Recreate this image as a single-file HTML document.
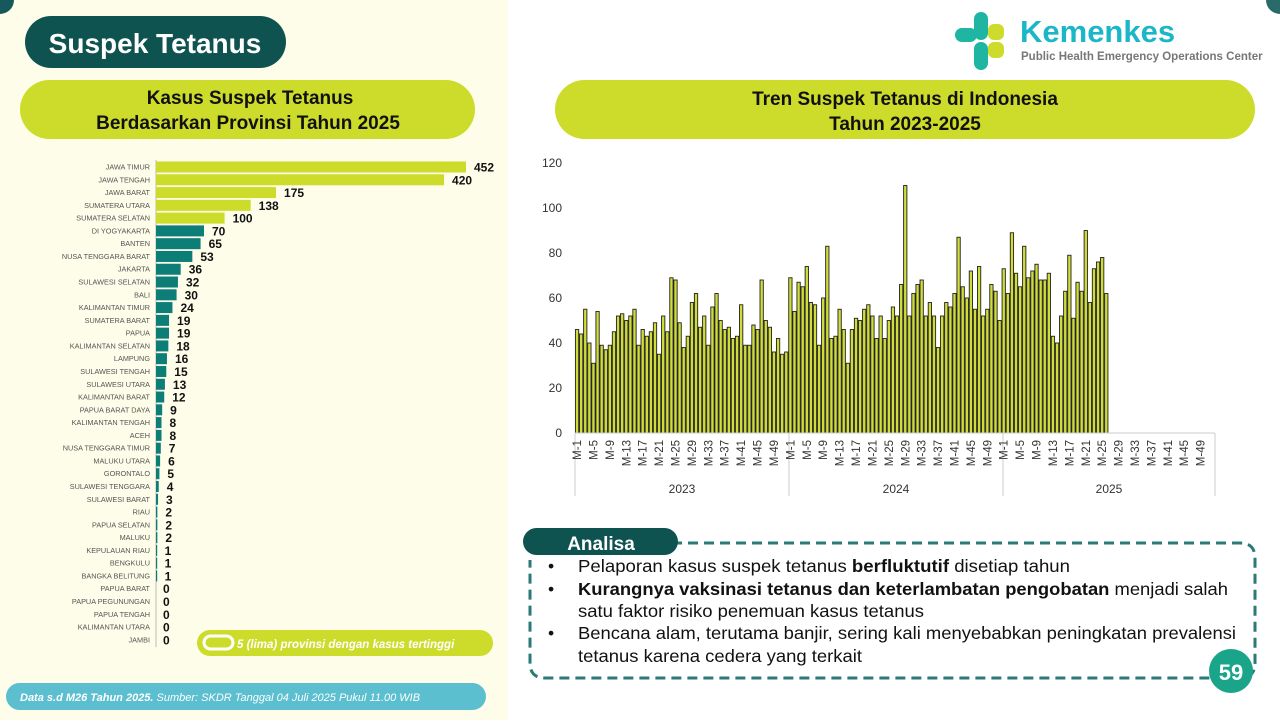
<!DOCTYPE html>
<html><head><meta charset="utf-8"><style>
body{margin:0;width:1280px;height:720px;overflow:hidden;background:#fff;font-family:"Liberation Sans",sans-serif}
svg text{font-family:"Liberation Sans",sans-serif}
</style></head><body>
<svg width="1280" height="720" viewBox="0 0 1280 720" xmlns="http://www.w3.org/2000/svg">
<rect x="0" y="0" width="508" height="720" fill="#fdfde9"/>
<circle cx="0" cy="0" r="14" fill="#17595a"/>
<circle cx="1280" cy="0" r="14" fill="#2a6a68"/>
<!-- title -->
<rect x="25" y="16" width="261" height="52" rx="26" fill="#0f5350"/>
<text x="155" y="53" text-anchor="middle" font-size="28" font-weight="bold" fill="#fff">Suspek Tetanus</text>
<rect x="20" y="80" width="455" height="59" rx="29.5" fill="#cddc2a"/>
<text x="250" y="104" text-anchor="middle" font-size="19" font-weight="bold" fill="#111">Kasus Suspek Tetanus</text>
<text x="248" y="129" text-anchor="middle" font-size="19" font-weight="bold" fill="#111">Berdasarkan Provinsi Tahun 2025</text>
<rect x="555" y="80" width="700" height="59" rx="29.5" fill="#cddc2a"/>
<text x="905" y="105" text-anchor="middle" font-size="19" font-weight="bold" fill="#111">Tren Suspek Tetanus di Indonesia</text>
<text x="905" y="130" text-anchor="middle" font-size="19" font-weight="bold" fill="#111">Tahun 2023-2025</text>
<!-- logo -->
<g>
<rect x="955" y="28" width="22" height="14" rx="7" fill="#1fb5a3"/>
<rect x="974" y="12" width="14" height="28" rx="7" fill="#1fb5a3"/>
<rect x="974" y="42" width="14" height="28" rx="7" fill="#1fb5a3"/>
<rect x="988" y="24" width="16" height="16" rx="6" fill="#cddc2a"/>
<rect x="988" y="42" width="16" height="16" rx="6" fill="#cddc2a"/>
<text x="1020" y="42" font-size="31" font-weight="bold" fill="#1bb7c9">Kemenkes</text>
<text x="1021" y="60" font-size="11.5" font-weight="bold" fill="#777">Public Health Emergency Operations Center</text>
</g>
<!-- province chart -->
<line x1="156" y1="160" x2="156" y2="647" stroke="#bbb" stroke-width="1"/>
<g id="pbars"></g>
<g id="plabels" font-size="7.3" fill="#555" text-anchor="end">
<text>JAWA TIMUR</text><text>JAWA TENGAH</text><text>JAWA BARAT</text><text>SUMATERA UTARA</text><text>SUMATERA SELATAN</text><text>DI YOGYAKARTA</text><text>BANTEN</text><text>NUSA TENGGARA BARAT</text><text>JAKARTA</text><text>SULAWESI SELATAN</text><text>BALI</text><text>KALIMANTAN TIMUR</text><text>SUMATERA BARAT</text><text>PAPUA</text><text>KALIMANTAN SELATAN</text><text>LAMPUNG</text><text>SULAWESI TENGAH</text><text>SULAWESI UTARA</text><text>KALIMANTAN BARAT</text><text>PAPUA BARAT DAYA</text><text>KALIMANTAN TENGAH</text><text>ACEH</text><text>NUSA TENGGARA TIMUR</text><text>MALUKU UTARA</text><text>GORONTALO</text><text>SULAWESI TENGGARA</text><text>SULAWESI BARAT</text><text>RIAU</text><text>PAPUA SELATAN</text><text>MALUKU</text><text>KEPULAUAN RIAU</text><text>BENGKULU</text><text>BANGKA BELITUNG</text><text>PAPUA BARAT</text><text>PAPUA PEGUNUNGAN</text><text>PAPUA TENGAH</text><text>KALIMANTAN UTARA</text><text>JAMBI</text>
</g>
<g id="pvals" font-size="12" font-weight="bold" fill="#111">
<text>452</text><text>420</text><text>175</text><text>138</text><text>100</text><text>70</text><text>65</text><text>53</text><text>36</text><text>32</text><text>30</text><text>24</text><text>19</text><text>19</text><text>18</text><text>16</text><text>15</text><text>13</text><text>12</text><text>9</text><text>8</text><text>8</text><text>7</text><text>6</text><text>5</text><text>4</text><text>3</text><text>2</text><text>2</text><text>2</text><text>1</text><text>1</text><text>1</text><text>0</text><text>0</text><text>0</text><text>0</text><text>0</text>
</g>
<rect x="197" y="630" width="296" height="26" rx="13" fill="#cddc2a"/>
<rect x="204" y="636" width="29" height="13" rx="6.5" fill="none" stroke="#fff" stroke-width="3"/>
<text x="237" y="648" font-size="11.5" font-weight="bold" font-style="italic" fill="#fff">5 (lima) provinsi dengan kasus tertinggi</text>
<rect x="6" y="683" width="480" height="27" rx="13.5" fill="#5bbfd0"/>
<text x="20" y="701" font-size="11" font-style="italic" fill="#fff"><tspan font-weight="bold">Data s.d M26 Tahun 2025.</tspan> Sumber: SKDR Tanggal 04 Juli 2025 Pukul 11.00 WIB</text>
<!-- trend chart -->
<g font-size="12" fill="#333" text-anchor="end">
<text x="562" y="437">0</text><text x="562" y="392">20</text><text x="562" y="347">40</text><text x="562" y="302">60</text><text x="562" y="257">80</text><text x="562" y="212">100</text><text x="562" y="167">120</text>
</g>
<g id="tbars"></g>
<line x1="575" y1="433" x2="1215" y2="433" stroke="#ccc"/>
<g stroke="#ccc"><line x1="575" y1="433" x2="575" y2="496"/><line x1="789" y1="433" x2="789" y2="496"/><line x1="1003" y1="433" x2="1003" y2="496"/><line x1="1215" y1="433" x2="1215" y2="496"/></g>
<g id="tlabels" font-size="11.5" fill="#333" text-anchor="end"></g>
<g font-size="12" fill="#333" text-anchor="middle"><text x="682" y="493">2023</text><text x="896" y="493">2024</text><text x="1109" y="493">2025</text></g>
<!-- analisa -->
<path d="M640 543 H1240 Q1255 543 1255 558 V663 Q1255 678 1240 678 H545 Q530 678 530 663 V560" fill="none" stroke="#2a7a78" stroke-width="3" stroke-dasharray="10,6"/>
<rect x="523" y="528" width="155" height="27" rx="13.5" fill="#0f5350"/>
<text x="601" y="550" text-anchor="middle" font-size="19" font-weight="bold" fill="#fff">Analisa</text>
<g font-size="17.5" fill="#111">
<text x="548" y="572">•</text><text x="578" y="572" textLength="492" lengthAdjust="spacingAndGlyphs">Pelaporan kasus suspek tetanus <tspan font-weight="bold">berfluktutif</tspan> disetiap tahun</text>
<text x="548" y="595">•</text><text x="578" y="595" textLength="650" lengthAdjust="spacingAndGlyphs"><tspan font-weight="bold">Kurangnya vaksinasi tetanus dan keterlambatan pengobatan</tspan> menjadi salah</text>
<text x="578" y="617" textLength="346" lengthAdjust="spacingAndGlyphs">satu faktor risiko penemuan kasus tetanus</text>
<text x="548" y="639">•</text><text x="578" y="639" textLength="658" lengthAdjust="spacingAndGlyphs">Bencana alam, terutama banjir, sering kali menyebabkan peningkatan prevalensi</text>
<text x="578" y="662" textLength="284" lengthAdjust="spacingAndGlyphs">tetanus karena cedera yang terkait</text>
</g>
<circle cx="1231" cy="671" r="22" fill="#1aa58a"/>
<text x="1231" y="680" text-anchor="middle" font-size="22" font-weight="bold" fill="#fff">59</text>
</svg>
<script>
var NS="http://www.w3.org/2000/svg";
var pv=[452,420,175,138,100,70,65,53,36,32,30,24,19,19,18,16,15,13,12,9,8,8,7,6,5,4,3,2,2,2,1,1,1,0,0,0,0,0];
var pl=document.querySelectorAll('#plabels text'),pvl=document.querySelectorAll('#pvals text'),pb=document.getElementById('pbars');
var sc=310/452;
pv.forEach(function(v,i){var cy=167+i*12.78;var w=v*sc;
 if(v>0){var r=document.createElementNS(NS,'rect');r.setAttribute('x',156);r.setAttribute('y',cy-5.5);r.setAttribute('width',Math.max(w,1.2));r.setAttribute('height',11);r.setAttribute('fill',i<5?'#cddc2a':'#0d7d78');pb.appendChild(r);}
 pl[i].setAttribute('x',150);pl[i].setAttribute('y',cy+2.5);
 pvl[i].setAttribute('x',156+w+(v>0?8:7));pvl[i].setAttribute('y',cy+4.5);});
var d=[46,44,55,40,31,54,39,37,39,45,52,53,50,52,55,39,46,43,45,49,35,52,45,69,68,49,38,43,58,62,47,52,39,56,62,50,46,47,42,43,57,39,39,48,46,68,50,47,36,42,35,36,
69,54,67,65,74,58,57,39,60,83,42,43,55,46,31,46,51,50,55,57,52,42,52,42,50,56,52,66,110,52,62,66,68,52,58,52,38,52,58,56,62,87,65,60,72,55,74,52,55,66,63,50,
73,62,89,71,65,83,69,72,75,68,68,71,43,40,52,63,79,51,67,63,90,58,73,76,78,62];
var tb=document.getElementById('tbars'),tl=document.getElementById('tlabels');
var step=640/156;
d.forEach(function(v,i){var x=575+i*step+0.4;var h=v*2.25;var r=document.createElementNS(NS,'rect');
 r.setAttribute('x',x);r.setAttribute('y',433-h);r.setAttribute('width',step-0.8);r.setAttribute('height',h);
 r.setAttribute('fill','#cfdc3a');r.setAttribute('stroke','#222');r.setAttribute('stroke-width','0.9');tb.appendChild(r);});
for(var i=0;i<156;i+=4){var w=i%52;var cx=575+(i+0.5)*step+4;var t=document.createElementNS(NS,'text');
 t.setAttribute('transform','translate('+cx+',440) rotate(-90)');t.textContent='M-'+(w+1);tl.appendChild(t);}
</script>
</body></html>
